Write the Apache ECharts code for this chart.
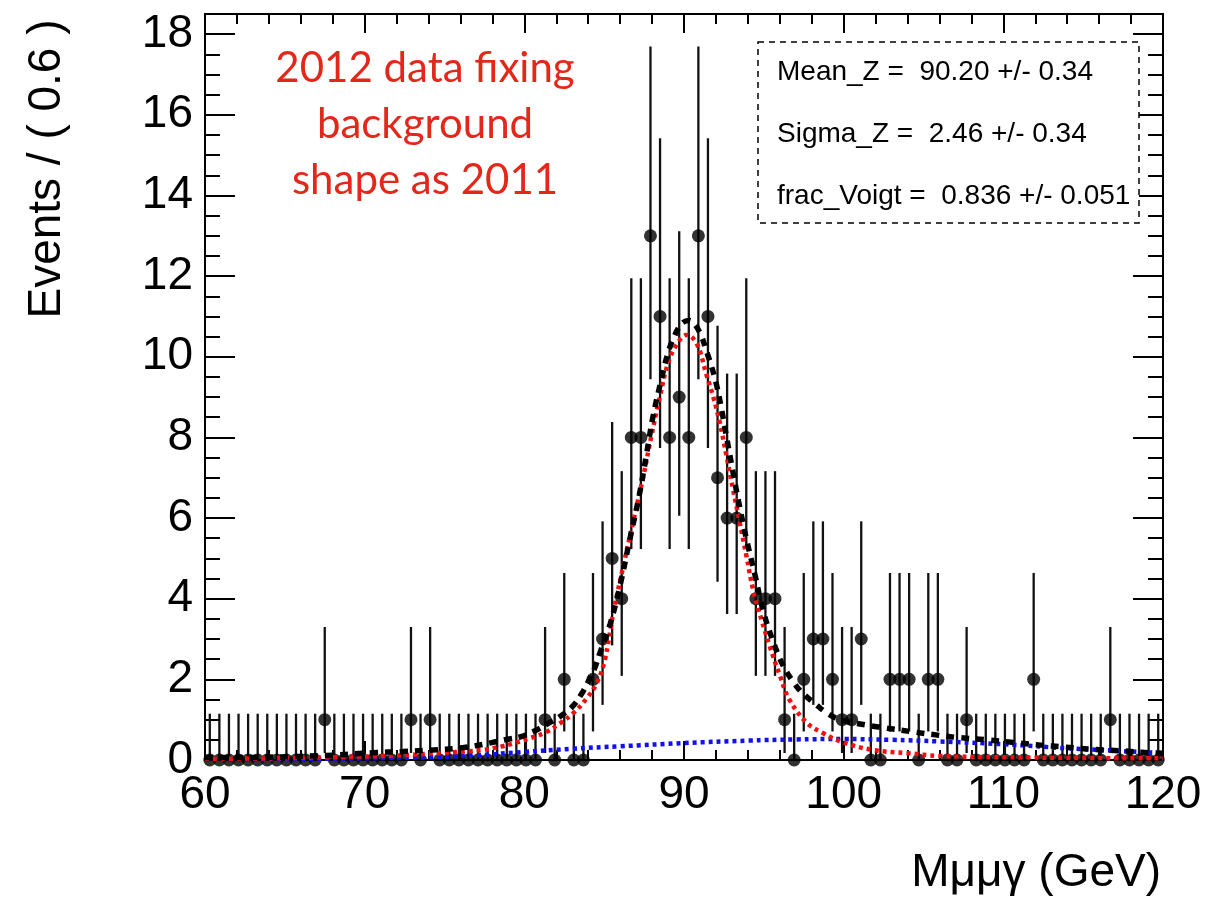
<!DOCTYPE html>
<html><head><meta charset="utf-8">
<script src="https://cdn.jsdelivr.net/npm/echarts@6/dist/echarts.min.js"></script>
<style>html,body{margin:0;padding:0;background:#fff}#c{width:1220px;height:898px}</style>
</head><body><div id="c"></div>
<script>
// ---- data ----
const binCenters = [
  60.3,60.9,61.5,62.1,62.7,63.3,63.9,64.5,65.1,65.7,
  66.3,66.9,67.5,68.1,68.7,69.3,69.9,70.5,71.1,71.7,
  72.3,72.9,73.5,74.1,74.7,75.3,75.9,76.5,77.1,77.7,
  78.3,78.9,79.5,80.1,80.7,81.3,81.9,82.5,83.1,83.7,
  84.3,84.9,85.5,86.1,86.7,87.3,87.9,88.5,89.1,89.7,
  90.3,90.9,91.5,92.1,92.7,93.3,93.9,94.5,95.1,95.7,
  96.3,96.9,97.5,98.1,98.7,99.3,99.9,100.5,101.1,101.7,
  102.3,102.9,103.5,104.1,104.7,105.3,105.9,106.5,107.1,107.7,
  108.3,108.9,109.5,110.1,110.7,111.3,111.9,112.5,113.1,113.7,
  114.3,114.9,115.5,116.1,116.7,117.3,117.9,118.5,119.1,119.7
];
const counts = [
  0,0,0,0,0,0,0,0,0,0,
  0,0,1,0,0,0,0,0,0,0,
  0,1,0,1,0,0,0,0,0,0,
  0,0,0,0,0,1,0,2,0,0,
  2,3,5,4,8,8,13,11,8,9,
  8,13,11,7,6,6,8,4,4,4,
  1,0,2,3,3,2,1,1,3,0,
  0,2,2,2,0,2,2,0,0,1,
  0,0,0,0,0,0,2,0,0,0,
  0,0,0,0,1,0,0,0,0,0
];
// asymmetric (Poisson) error bar sizes, indexed by count
const errLow  = [0, 0.827, 1.292, 1.633, 1.914, 2.159, 2.380, 2.581, 2.768, 2.943, 3.108, 3.265, 3.415, 3.559];
const errHigh = [1.148, 2.299, 2.638, 2.918, 3.163, 3.382, 3.583, 3.770, 3.945, 4.110, 4.266, 4.416, 4.559, 4.697];

// fit curves
const totalCurve = [
  [60,0.06],[64,0.07],[68,0.12],[70.5,0.18],[72.4,0.21],[74.3,0.25],[76.2,0.31],[77.95,0.43],
  [78.9,0.51],[79.8,0.58],[80.7,0.73],[81.5,0.91],[82.2,1.07],[83.0,1.32],[83.6,1.65],[84.0,1.94],
  [84.4,2.27],[84.73,2.65],[85.36,3.35],[86.0,4.34],[86.6,5.46],[87.2,6.57],[87.66,7.6],[88.05,8.5],
  [88.6,9.47],[89.0,10.1],[89.43,10.54],[89.85,10.82],[90.3,10.9],[90.68,10.8],[91.1,10.5],[91.4,10.15],
  [91.73,9.75],[92.04,9.3],[92.35,8.7],[92.67,8.0],[93.08,7.11],[93.5,6.25],[93.92,5.46],[94.44,4.6],
  [94.96,3.7],[95.59,2.93],[96.2,2.35],[96.8,1.96],[97.4,1.67],[98.2,1.4],[98.9,1.18],[99.8,1.0],
  [101.5,0.86],[102.5,0.8],[104.3,0.7],[106,0.61],[107.1,0.56],[109,0.5],[110.8,0.43],[112.6,0.36],
  [113.6,0.33],[115.4,0.27],[117.3,0.23],[119.2,0.18],[120,0.17]
];
const signalCurve = [
  [60,0.03],[64,0.04],[68,0.07],[72,0.11],[75,0.18],[77.4,0.25],[78.5,0.33],[79.3,0.41],[80.35,0.54],
  [81.4,0.70],[82.23,0.91],[83.06,1.16],[83.9,1.53],[84.53,1.9],[85.04,2.48],[85.57,3.64],[86.19,4.79],
  [86.82,5.91],[87.45,7.03],[87.97,8.06],[88.49,9.01],[89.0,9.84],[89.54,10.3],[90.16,10.54],[90.79,10.33],
  [91.41,9.55],[91.83,9.01],[92.25,8.35],[92.67,7.52],[93.08,6.7],[93.5,5.87],[93.92,5.04],[94.33,4.22],
  [94.86,3.47],[95.38,2.81],[96.0,2.1],[96.6,1.5],[97.7,0.92],[98.7,0.67],[99.8,0.46],[101.8,0.25],
  [104,0.17],[106,0.1],[110,0.07],[115,0.05],[120,0.04]
];
const bkgCurve = [
  [60,0.01],[65,0.02],[70,0.04],[74,0.07],[77,0.12],[80,0.2],[83,0.28],[86,0.34],[90,0.42],
  [94,0.48],[97,0.51],[100,0.52],[103,0.5],[106,0.46],[110,0.39],[114,0.29],[117,0.23],[120,0.17]
];
const xTicks = [60, 70, 80, 90, 100, 110, 120];
const yTickLabels = ['0','2','4','6','8','10','12','14','16','18'];
const statLines = ['Mean_Z =  90.20 +/- 0.34', 'Sigma_Z =  2.46 +/- 0.34', 'frac_Voigt =  0.836 +/- 0.051'];
const noteLines = ['2012 data fixing', 'background', 'shape as 2011'];

// ---- chart ----
const FONT = '"Liberation Sans", Arial, Helvetica, sans-serif';
const points = binCenters.map((x, i) => [x, counts[i]]);
const bars = binCenters.map((x, i) => [x, counts[i] - errLow[counts[i]], counts[i] + errHigh[counts[i]]]);

const xBase = {
  type: 'value', min: xTicks[0], max: xTicks[xTicks.length - 1], interval: 10,
  axisLine: { show: true, onZero: false, lineStyle: { color: '#000', width: 2 } },
  axisTick: { show: true, inside: true, length: 19, lineStyle: { color: '#000', width: 2 } },
  minorTick: { show: true, splitNumber: 5, length: 10, lineStyle: { color: '#000', width: 2 } },
  splitLine: { show: false }, minorSplitLine: { show: false }
};
function yAxisDef(pos, interval, len, labels) {
  return {
    type: 'value', position: pos, min: 0, max: 18.5, interval: interval,
    axisLine: { show: true, onZero: false, lineStyle: { color: '#000', width: 2 } },
    axisTick: { show: true, inside: true, length: len, lineStyle: { color: '#000', width: 2 } },
    splitLine: { show: false },
    axisLabel: labels ? {
      show: true, color: '#000', fontSize: 46, fontFamily: FONT, margin: 12, showMaxLabel: false,
      formatter: v => (yTickLabels.indexOf(String(v)) >= 0 ? String(v) : '')
    } : { show: false }
  };
}

const chart = echarts.init(document.getElementById('c'), null, { renderer: 'canvas' });
chart.setOption({
  animation: false,
  backgroundColor: '#fff',
  grid: { left: 205, right: 57, top: 14, bottom: 138, containLabel: false },
  xAxis: [
    Object.assign({}, xBase, { position: 'bottom',
      axisLabel: { show: true, color: '#000', fontSize: 46, fontFamily: FONT, margin: 12 } }),
    Object.assign({}, xBase, { position: 'top', axisLabel: { show: false } })
  ],
  yAxis: [
    yAxisDef('left', 2, 30, true),
    yAxisDef('left', 0.5, 15, false),
    yAxisDef('right', 2, 30, false),
    yAxisDef('right', 0.5, 15, false)
  ],
  series: [
    {
      type: 'custom', xAxisIndex: 0, yAxisIndex: 0, data: bars, z: 2,
      renderItem: function (params, api) {
        const p1 = api.coord([api.value(0), api.value(1)]);
        const p2 = api.coord([api.value(0), api.value(2)]);
        return { type: 'line', shape: { x1: p1[0], y1: p1[1], x2: p2[0], y2: p2[1] },
                 style: { stroke: '#111', lineWidth: 2.3 } };
      }
    },
    { type: 'scatter', data: points, symbol: 'circle', symbolSize: 13,
      itemStyle: { color: '#000' }, z: 3 },
    { type: 'line', data: bkgCurve, smooth: 0.4, showSymbol: false, z: 4,
      lineStyle: { color: '#1010f0', width: 4.5, type: [4, 4] } },
    { type: 'line', data: signalCurve, smooth: 0.4, showSymbol: false, z: 5,
      lineStyle: { color: '#f01010', width: 4.5, type: [4, 4] } },
    { type: 'line', data: totalCurve, smooth: 0.4, showSymbol: false, z: 6,
      lineStyle: { color: '#000', width: 5.5, type: [8, 7] } }
  ],
  graphic: [
    { type: 'rect', z: 10, shape: { x: 758, y: 42, width: 381, height: 181 },
      style: { fill: '#fff', stroke: '#000', lineWidth: 1.5, lineDash: [6, 5] } },
    ...statLines.map((t, i) => ({ type: 'text', z: 11, x: 777, y: 72 + i * 62,
      style: { text: t, font: '28px ' + FONT, fill: '#000', align: 'left', verticalAlign: 'middle' } })),
    ...noteLines.map((t, i) => ({ type: 'text', z: 11, x: 425, y: 68 + i * 56,
      style: { text: t, font: '42px Lato, "Open Sans", sans-serif', fill: '#e3281a', align: 'center', verticalAlign: 'middle' } })),
    { type: 'text', z: 11, x: 47, y: 169, rotation: Math.PI / 2,
      style: { text: 'Events / ( 0.6 )', font: '46px ' + FONT, fill: '#000', align: 'center', verticalAlign: 'middle' } },
    { type: 'text', z: 11, x: 1161, y: 873,
      style: { text: 'Mμμγ (GeV)', font: '46px ' + FONT, fill: '#000', align: 'right', verticalAlign: 'middle' } }
  ]
});
</script>
</body></html>
